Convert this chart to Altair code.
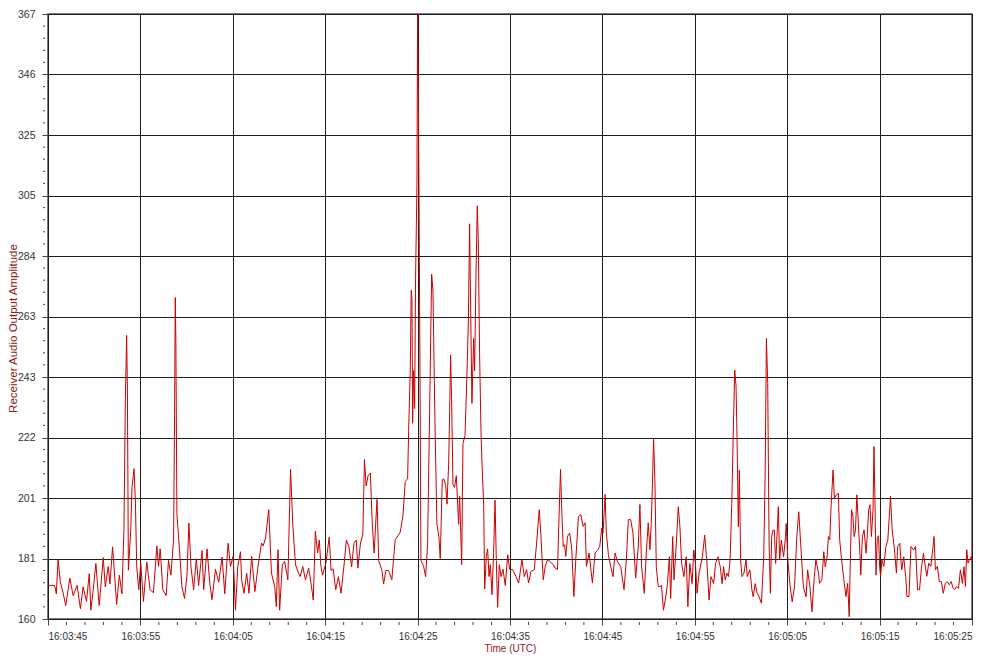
import json
import altair as alt
import pandas as pd

# ---------------- data ----------------
# seconds after 16:03:45 UTC
SECONDS = [
    0.0, 0.72, 0.9, 1.09, 1.34, 1.63, 1.92, 2.36, 2.72, 3.15, 3.51, 3.8, 4.17, 4.46, 4.64, 4.89,
    5.18, 5.54, 5.98, 6.2, 6.52, 6.7, 6.99, 7.43, 7.72, 8.0, 8.22, 8.37, 8.51, 8.59, 8.7, 8.95,
    9.09, 9.31, 9.46, 9.6, 9.82, 10.04, 10.33, 10.69, 11.05, 11.41, 11.78, 11.96, 12.14, 12.43,
    12.79, 13.04, 13.3, 13.59, 13.7, 13.77, 13.84, 13.95, 14.31, 14.49, 14.78, 15.04, 15.25,
    15.47, 15.76, 16.05, 16.3, 16.67, 16.85, 17.21, 17.5, 17.75, 18.12, 18.48, 18.84, 19.13,
    19.49, 19.75, 20.04, 20.29, 20.54, 20.83,
    20.96, 21.21, 21.5, 21.75, 22.04, 22.39, 22.75, 23.11, 23.29, 23.54, 23.89, 24.18, 24.54,
    24.71, 24.89, 25.07, 25.36, 25.61, 25.96, 26.25, 26.5, 26.79, 27.04, 27.29, 27.57, 27.86,
    28.21, 28.46, 28.71, 28.93, 29.18, 29.36, 29.54, 29.71, 30.07, 30.43, 30.64, 30.86, 31.14,
    31.43, 31.71, 32.04, 32.29, 32.57, 32.86, 33.11, 33.36, 33.54, 33.82, 34.07, 34.25, 34.43,
    34.64, 34.89, 35.07, 35.29, 35.61, 35.79, 36.14, 36.32, 36.57, 36.86, 37.21, 37.57,
    38.12, 38.41, 38.66, 38.92, 39.03, 39.21, 39.31, 39.39, 39.46, 39.57, 39.68, 39.78, 39.93,
    40.0, 40.07, 40.14, 40.22, 40.36, 40.65, 40.87, 41.08, 41.3, 41.52, 41.66, 41.88, 42.09,
    42.31, 42.45, 42.67, 42.82, 43.03, 43.18, 43.36, 43.47, 43.57, 43.68, 43.83, 44.0, 44.19,
    44.44, 44.55, 44.77, 44.91, 45.13, 45.34, 45.49, 45.63, 45.78, 45.88, 46.06, 46.17, 46.32,
    46.46, 46.57, 46.71, 46.86, 46.97, 47.15, 47.26, 47.44, 47.58, 47.73, 47.87, 48.05, 48.23,
    48.38, 48.52, 48.66, 48.84, 49.03, 49.24, 49.49, 49.75, 49.96,
    50.29, 50.65, 50.94, 51.29, 51.55, 51.8, 52.01, 52.27, 52.63, 52.88, 53.17, 53.35, 53.6,
    53.81, 54.06, 54.32, 54.68, 54.89, 55.14, 55.32, 55.47, 55.61, 55.76, 55.9, 56.04, 56.22,
    56.47, 56.69, 56.91, 57.12, 57.41, 57.66, 57.91, 58.13, 58.27, 58.56, 58.92, 59.21, 59.5,
    59.71, 59.93, 60.07, 60.29, 60.43, 60.65, 60.9, 61.15, 61.37, 61.62, 61.98, 62.34, 62.59,
    62.81, 63.06, 63.31, 63.6, 63.88, 64.06, 64.24, 64.53, 64.75, 64.96, 65.14, 65.29, 65.4,
    65.54, 65.68, 65.83, 66.04,
    66.25, 66.39, 66.61, 66.86, 67.04, 67.25, 67.39, 67.61, 67.75, 68.0, 68.21, 68.39, 68.57,
    68.82, 69.07, 69.25, 69.46, 69.71, 69.89, 70.07, 70.25, 70.46, 70.82, 71.07, 71.32, 71.54,
    71.75, 72.04, 72.25, 72.5, 72.75, 72.96, 73.11, 73.29, 73.46, 73.64, 73.82, 74.0, 74.18,
    74.32, 74.46, 74.57, 74.71, 74.82, 74.96, 75.11, 75.32, 75.54, 75.68, 75.96, 76.18, 76.32,
    76.54, 76.75, 76.96, 77.21, 77.46, 77.61, 77.75, 77.89, 78.04, 78.18, 78.32, 78.46, 78.61,
    78.75, 78.89, 79.04, 79.18, 79.36, 79.61, 79.82, 79.89, 80.07, 80.32, 80.54, 80.79, 81.04,
    81.25, 81.5, 81.75, 82.04, 82.21, 82.46, 82.68, 82.93, 83.11, 83.39,
    83.5, 83.75, 83.96, 84.11, 84.32, 84.46, 84.61, 84.75, 84.96, 85.11, 85.32, 85.54, 85.68,
    85.89, 86.18, 86.36, 86.54, 86.71, 86.82, 86.96, 87.11, 87.25, 87.39, 87.54, 87.68, 87.89,
    87.96, 88.14, 88.32, 88.54, 88.68, 88.82, 88.96, 89.11, 89.29, 89.39, 89.5, 89.61, 89.75,
    89.89, 90.0, 90.11, 90.25, 90.46, 90.68, 90.89, 91.18, 91.36, 91.61, 91.82, 91.96, 92.18,
    92.39, 92.61, 92.82, 92.96, 93.18, 93.39, 93.68, 93.89, 94.11, 94.32, 94.54, 94.75, 94.89,
    95.11, 95.32, 95.54, 95.75, 95.89, 96.04, 96.25, 96.46, 96.68, 96.89, 97.11, 97.32, 97.54,
    97.75, 97.96, 98.11, 98.32, 98.54, 98.75, 98.96, 99.14, 99.29, 99.43, 99.57, 99.71, 99.93,
    100.0,
]

AMPLITUDE = [
    171.5, 171.5, 168.6, 180.4, 172.6, 169, 164.6, 174, 168, 171.5, 163.5, 171, 166, 175.5, 163, 169.8,
    179, 164.6, 181, 171, 178, 172, 184.7, 165, 175, 168.6, 190.5, 235, 257, 240, 176.7, 190,
    205, 211.4, 200, 178, 170, 179, 166, 179.5, 170, 169, 185, 178, 184, 170,
    168, 180, 175, 187, 230, 270, 255, 196, 180, 171, 167, 175, 192.8,
    178, 170, 180.6, 171.5, 183.4, 170, 184, 172.6, 166.6, 177, 172.6, 181.2, 168.6,
    185.9, 178, 181.5, 163, 178, 183,
    173.4, 168.8, 175.7, 168.8, 181.4, 169.4, 178.5, 186, 185, 187.7, 197.4, 175.7, 171,
    164.2, 183.7, 163, 178.5, 179.7, 173.4, 211.2, 191.7, 178.5, 176.3, 174.5, 178, 173.4,
    177.4, 172.3, 166.5, 190, 182.6, 187, 178, 175, 179, 188, 176.6, 177.2, 170,
    174.5, 168.8, 178.5, 187, 184.7, 177.8, 185.9, 187, 177.4, 186, 188.9, 214.6, 205.5,
    209, 210, 194, 182.6, 200.9, 180, 176.6, 172, 176.6, 176.6, 173.4, 187,
    189.7, 195.2, 207, 208, 224.2, 246, 272.5, 269.7, 227, 245, 232, 276.6, 308.4,
    367, 344, 312.5, 267, 180, 178, 174.5, 185.5, 231, 278, 272.5, 227, 192.4,
    188, 180.7, 207.6, 208, 206, 199.3, 213, 231, 250.4, 235, 206, 205, 209,
    192.4, 202, 178.6, 220, 222.8, 243.5, 261.4, 295.2, 257, 233.8, 256, 244.9, 278,
    301.4, 289, 250.4, 224.2, 213, 199.3, 170.3, 181.4, 184, 174.5, 178.6, 168.3, 182.8,
    200.7, 180, 164, 178.6, 174.5, 177, 171.5, 182, 177,
    176.9, 174.5, 172.3, 180.3, 174.5, 176.9, 172.3, 176.3, 176.9, 186, 197.4, 188.3, 173.4,
    178, 180.3, 179.7, 178.6, 177.4, 176.9, 196.3, 211.2, 196.3, 184.8, 185.4, 181.4, 188.3,
    189.4, 183.7, 167.7, 180.3, 195.1, 195.7, 191.7, 192.9, 178, 182.6, 172.3, 182.6, 183.7,
    184.8, 191.1, 189.4, 202.6, 189.4, 182, 178, 174.5, 182.6, 179.7, 178, 170, 180.3,
    194, 194, 189.4, 174, 184.8, 199.2, 178, 168.8, 182.6, 192.9, 183.7, 192.9, 204.3,
    221.5, 207.7, 178, 171.1,
    171, 171.6, 163, 167.6, 172.1, 181.3, 167, 188.2, 173.4, 185.9, 198.4, 191.6, 179,
    174.5, 181.3, 164.2, 179, 172.1, 183.6, 179, 168.8, 175.7, 181.3, 188.7, 179, 166.5,
    174.5, 172.1, 179, 181.3, 177.9, 172.1, 177.9, 173.4, 175.7, 174.5, 180.2, 199.6, 225.8,
    245.2, 240, 222.4, 191.6, 211, 180.2, 174.5, 175.7, 180.2, 174.5, 176.8, 170, 167.6,
    172.1, 168.8, 167.6, 165.4, 181.3, 208.7, 256, 240.6, 186, 168.8, 188.2, 190.4, 190.4,
    179, 188.2, 198.4, 180.2, 187, 181.3, 188.2, 192.7, 180.2, 171, 165.9, 171, 188.2,
    196.7, 183.6, 171, 167.6, 176.8, 171, 162.5, 174.5, 180.2, 175.7,
    172.2, 173.4, 183, 177.9, 181.3, 188.2, 187.1, 198.5, 211, 201.4, 202.5, 203, 187.1,
    180.2, 172.2, 167.7, 172.2, 160.8, 178, 197.4, 195.1, 188.2, 190.5, 202.5, 193.9, 181.3,
    175, 188.2, 190.5, 182.5, 189.4, 197.4, 199.1, 188.2, 197.4, 219, 200.5, 175, 187.9,
    188.5, 178, 174.6, 180.2, 178, 184.8, 187, 202, 190.5, 183.6, 175.7, 184.8, 185.9,
    176.8, 181.3, 174.5, 167.7, 167.7, 184.8, 183.6, 184.8, 170, 170, 177.9, 182.5, 179.1,
    174.6, 179.1, 178, 183.7, 188.2, 176.8, 178, 172.8, 172.8, 168.8, 172.2, 172.8, 171.7,
    172.8, 170.5, 170, 171.1, 170.5, 176.8, 172.2, 177.9, 171.1, 183.7, 179.1, 180.2, 181.3,
    180,
]

X_TICKS = [0, 10, 20, 30, 40, 50, 60, 70, 80, 90, 100]
X_TICK_LABELS = ["16:03:45", "16:03:55", "16:04:05", "16:04:15", "16:04:25", "16:04:35",
                 "16:04:45", "16:04:55", "16:05:05", "16:05:15", "16:05:25"]
Y_MIN, Y_MAX = 160, 367
Y_TICK_LABELS = ["160", "181", "201", "222", "243", "263", "284", "305", "325", "346", "367"]

# ---------------- derived axis helpers ----------------
y_step = (Y_MAX - Y_MIN) / 10
Y_TICKS = [round(Y_MIN + y_step * i, 2) for i in range(11)]
X_MINOR = [t for t in range(0, 101, 2) if t % 10]
Y_MINOR = [round(Y_MIN + y_step / 5 * k, 3) for k in range(51) if k % 5]

W, H = 924, 605
LABEL_COLOR = "#333333"
TITLE_COLOR = "#8b1a1a"
GRID_COLOR = "#1e1e1e"
FONT = "Liberation Sans"

x_label_expr = f"{json.dumps(X_TICK_LABELS)}[indexof({json.dumps(X_TICKS)}, datum.value)]"
y_label_expr = f"{json.dumps(Y_TICK_LABELS)}[indexof({json.dumps(Y_TICKS)}, datum.value)]"

x_scale = alt.Scale(domain=[0, 100], nice=False, zero=False)
y_scale = alt.Scale(domain=[Y_MIN, Y_MAX], nice=False, zero=False)

x_axis = alt.Axis(
    values=X_TICKS, labelExpr=x_label_expr, title="Time (UTC)",
    grid=True, gridColor=GRID_COLOR, gridWidth=1, gridOpacity=1,
    domain=False, ticks=True, tickSize=6, tickColor="#444444", tickWidth=1,
    labelFontSize=10, labelColor=LABEL_COLOR, labelPadding=6, labelFont=FONT,
    titleFontSize=10, titleColor=TITLE_COLOR, titleFontWeight="normal", titleFont=FONT,
    titlePadding=2,
)
y_axis = alt.Axis(
    values=Y_TICKS, labelExpr=y_label_expr, title="Receiver Audio Output Amplitude",
    grid=True, gridColor=GRID_COLOR, gridWidth=1, gridOpacity=1,
    domain=False, ticks=True, tickSize=6, tickColor="#444444", tickWidth=1,
    labelFontSize=10.5, labelColor=LABEL_COLOR, labelPadding=7, labelFont=FONT,
    titleFontSize=11.5, titleColor=TITLE_COLOR, titleFontWeight="normal", titleFont=FONT,
    titleX=-35, titleY=314, titleAngle=270, titleAlign="center", titleBaseline="middle",
)

df = pd.DataFrame({"t": SECONDS, "v": AMPLITUDE})

line = alt.Chart(df).mark_line(color="#cc0000", strokeWidth=1, interpolate="linear").encode(
    x=alt.X("t:Q", scale=x_scale, axis=x_axis),
    y=alt.Y("v:Q", scale=y_scale, axis=y_axis),
)

x_minor = alt.Chart(pd.DataFrame({"t": X_MINOR})).mark_rule(color="#444444", strokeWidth=1).encode(
    x=alt.X("t:Q", scale=x_scale, axis=x_axis),
    y=alt.value(H + 3),
    y2=alt.value(H + 6),
)

y_minor = alt.Chart(pd.DataFrame({"v": Y_MINOR})).mark_rule(color="#444444", strokeWidth=1).encode(
    y=alt.Y("v:Q", scale=y_scale, axis=y_axis),
    x=alt.value(-5),
    x2=alt.value(-3),
)

chart = alt.layer(line, x_minor, y_minor).properties(
    width=W,
    height=H,
    autosize=alt.AutoSizeParams(type="none"),
    padding={"left": 40, "top": 6, "right": 20, "bottom": 35},
    background="white",
).configure_view(
    stroke="#555555",
    strokeWidth=1.5,
)

chart.save("out.html", embed_options={"renderer": "svg", "actions": False})
